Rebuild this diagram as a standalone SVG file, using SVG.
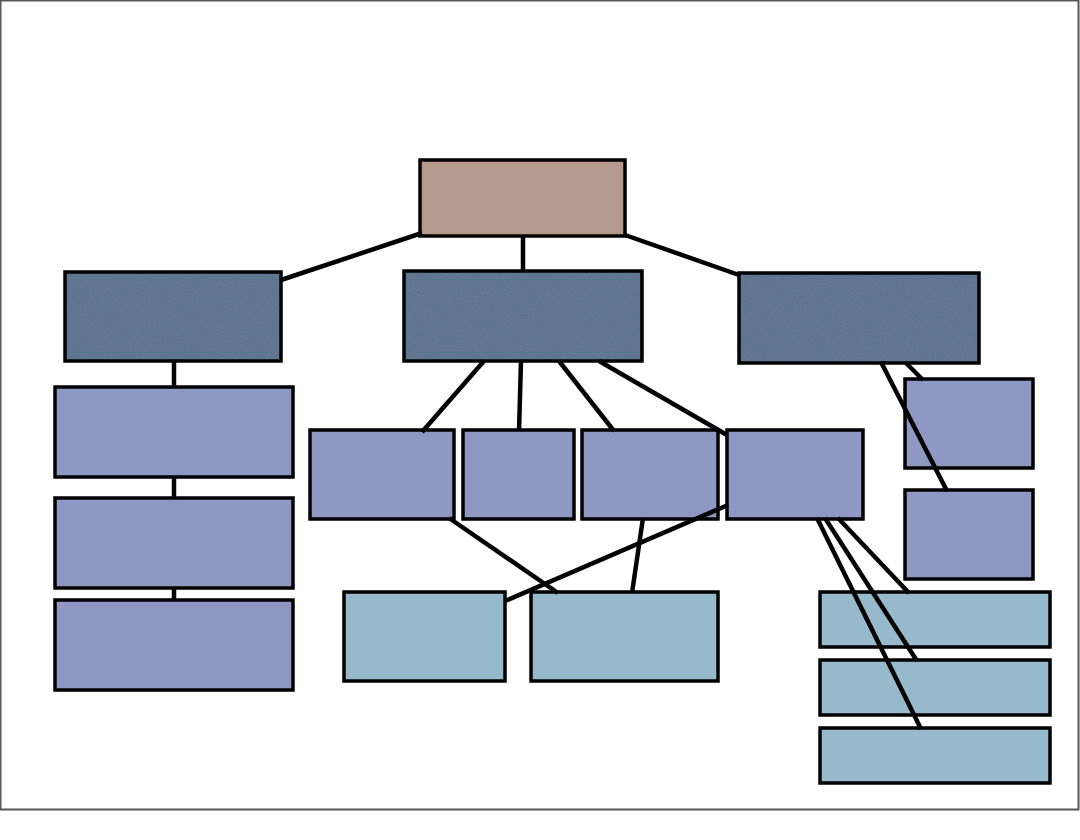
<svg xmlns="http://www.w3.org/2000/svg" width="1080" height="840" viewBox="0 0 1080 840">
<defs>
<filter id="grain" x="0" y="0" width="100%" height="100%">
<feTurbulence type="fractalNoise" baseFrequency="0.9" numOctaves="2" seed="3" result="t"/>
<feColorMatrix in="t" type="matrix" values="0 0 0 0 1  0 0 0 0 1  0 0 0 0 1  0 0 0 0.05 0" result="w"/>
<feComposite in="w" in2="SourceGraphic" operator="in" result="wi"/>
<feMerge><feMergeNode in="SourceGraphic"/><feMergeNode in="wi"/></feMerge>
</filter>
</defs>
<style>
.n rect{stroke:#000;stroke-width:3.5}
.root{fill:#b49a8d}
.l2{fill:#56708c}
.l3{fill:#8f98c3}
.l4{fill:#96b9cc}
.tex{stroke:none !important;fill:#56708c;filter:url(#grain)}
#connectors line{stroke:#000;stroke-width:4.5;stroke-linecap:butt}
</style>
<rect x="0" y="0" width="1080" height="840" fill="#fff"/>
<rect x="0.5" y="0.5" width="1078" height="809" fill="none" stroke="#555" stroke-width="2"/>
<g id="root" class="n"><rect class="root" x="420" y="160" width="205" height="76"/></g>
<g id="l2-left" class="n"><rect class="l2" x="65" y="272" width="216" height="89"/><rect class="tex" x="67" y="274" width="212" height="85"/></g>
<g id="l2-mid" class="n"><rect class="l2" x="404" y="271" width="238" height="90"/><rect class="tex" x="406" y="273" width="234" height="86"/></g>
<g id="l2-right" class="n"><rect class="l2" x="739" y="273" width="240" height="90"/><rect class="tex" x="741" y="275" width="236" height="86"/></g>
<g id="left-1" class="n"><rect class="l3" x="55" y="387" width="238" height="90"/></g>
<g id="left-2" class="n"><rect class="l3" x="55" y="498" width="238" height="90"/></g>
<g id="left-3" class="n"><rect class="l3" x="55" y="600" width="238" height="90"/></g>
<g id="mid-1" class="n"><rect class="l3" x="310" y="430" width="144" height="89"/></g>
<g id="mid-2" class="n"><rect class="l3" x="463" y="430" width="111" height="89"/></g>
<g id="mid-3" class="n"><rect class="l3" x="582" y="430" width="136" height="89"/></g>
<g id="mid-4" class="n"><rect class="l3" x="727" y="430" width="136" height="89"/></g>
<g id="right-1" class="n"><rect class="l3" x="905" y="379" width="128" height="89"/></g>
<g id="right-2" class="n"><rect class="l3" x="905" y="490" width="128" height="89"/></g>
<g id="bot-1" class="n"><rect class="l4" x="344" y="592" width="161" height="89"/></g>
<g id="bot-2" class="n"><rect class="l4" x="531" y="592" width="187" height="89"/></g>
<g id="bot-3" class="n"><rect class="l4" x="820" y="592" width="230" height="55"/></g>
<g id="bot-4" class="n"><rect class="l4" x="820" y="660" width="230" height="55"/></g>
<g id="bot-5" class="n"><rect class="l4" x="820" y="728" width="230" height="55"/></g>
<g id="connectors">
<line x1="422" y1="233" x2="281" y2="280"/>
<line x1="523" y1="236" x2="523" y2="271"/>
<line x1="625" y1="235" x2="739" y2="275"/>
<line x1="174" y1="361" x2="174" y2="387"/>
<line x1="174" y1="477" x2="174" y2="498"/>
<line x1="174" y1="588" x2="174" y2="601"/>
<line x1="484" y1="361" x2="422" y2="432"/>
<line x1="521" y1="361" x2="519" y2="431"/>
<line x1="559" y1="361" x2="614" y2="431"/>
<line x1="599" y1="361" x2="727" y2="435"/>
<line x1="881" y1="362" x2="947" y2="491"/>
<line x1="905" y1="362" x2="923" y2="380"/>
<line x1="449" y1="518" x2="558" y2="593"/>
<line x1="643" y1="518" x2="632" y2="593"/>
<line x1="728" y1="505" x2="505" y2="601"/>
<line x1="817" y1="518" x2="921" y2="729"/>
<line x1="825" y1="518" x2="917" y2="661"/>
<line x1="838" y1="518" x2="909" y2="593"/>
</g>
</svg>
